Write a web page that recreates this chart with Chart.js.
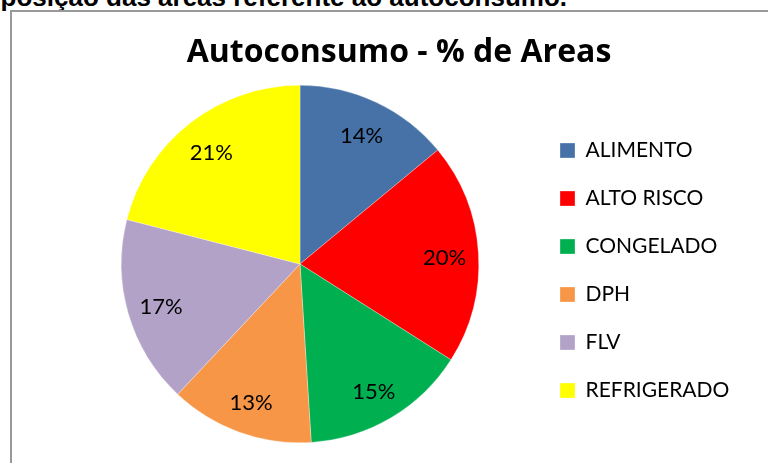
<!DOCTYPE html>
<html>
<head>
<meta charset="utf-8">
<script src="https://cdn.jsdelivr.net/npm/chart.js@4.4.1/dist/chart.umd.min.js"></script>
<style>
  html, body { margin: 0; padding: 0; background: #fff; overflow: hidden; width: 768px; height: 463px; }
  #caption {
    position: absolute; right: 201px; top: -16px;
    font: bold 26px "Liberation Sans", Arial, sans-serif;
    line-height: 26px; white-space: nowrap; color: #000;
  }
  #frame {
    position: absolute; left: 10px; top: 10px; width: 900px; height: 900px;
    border: 2px solid #999;
  }
  #wrap { position: absolute; left: 12px; top: 12px; width: 756px; height: 440px; }
</style>
</head>
<body>
<div id="caption">Composição das áreas referente ao autoconsumo.</div>
<div id="frame"></div>
<div id="wrap"><canvas id="myChart" width="756" height="440"></canvas></div>
<script>
const categories = ["ALIMENTO", "ALTO RISCO", "CONGELADO", "DPH", "FLV", "REFRIGERADO"];
const shares = [14, 20, 15, 13, 17, 21];
const sliceColors = ["#4672A7", "#FF0000", "#00B050", "#F79646", "#B2A2C7", "#FFFF00"];

// percentage labels inside the slices
const pieLabels = {
  id: "pieLabels",
  afterDatasetsDraw(chart) {
    const ctx = chart.ctx;
    const meta = chart.getDatasetMeta(0);
    ctx.save();
    ctx.font = "22px Lato";
    ctx.fillStyle = "#000";
    ctx.textAlign = "center";
    ctx.textBaseline = "middle";
    meta.data.forEach((arc, i) => {
      const p = arc.getProps(["x", "y", "startAngle", "endAngle", "outerRadius"], true);
      const mid = (p.startAngle + p.endAngle) / 2;
      const r = p.outerRadius * 0.81;
      ctx.fillText(shares[i] + "%", p.x + Math.cos(mid) * r, p.y + Math.sin(mid) * r + 3);
    });
    ctx.restore();
  }
};

new Chart(document.getElementById("myChart").getContext("2d"), {
  type: "pie",
  data: {
    labels: categories,
    datasets: [{
      data: shares,
      backgroundColor: sliceColors,
      borderColor: "rgba(255,255,255,0.6)",
      borderWidth: 0.5
    }]
  },
  options: {
    responsive: false,
    animation: false,
    layout: { padding: { left: 55, right: 37, top: 0, bottom: 9 } },
    plugins: {
      tooltip: { enabled: false },
      title: {
        display: true,
        text: "Autoconsumo - % de Areas",
        color: "#000",
        font: { family: "Open Sans", size: 32, weight: "bold", lineHeight: 1.2 },
        padding: { top: 21.8, bottom: 12.8 }
      },
      legend: {
        position: "right",
        fullSize: false,
        maxWidth: 198,
        title: { display: true, text: "", padding: 0, font: { size: 13, lineHeight: 1 } },
        labels: {
          boxWidth: 15,
          boxHeight: 15,
          padding: 27,
          color: "#000",
          font: { family: "Lato", size: 21 }
        }
      }
    }
  },
  plugins: [pieLabels]
});
</script>
</body>
</html>
